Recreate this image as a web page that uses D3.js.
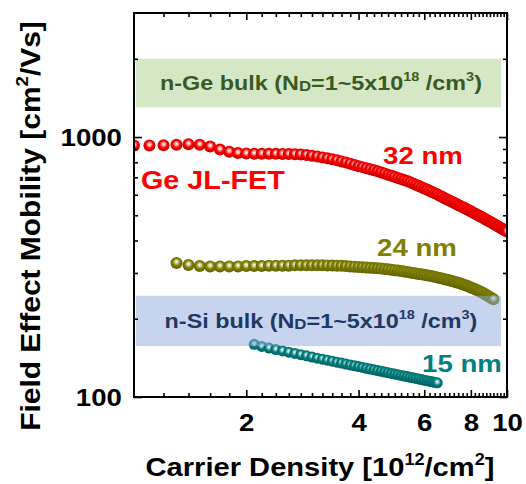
<!DOCTYPE html>
<html>
<head>
<meta charset="utf-8">
<script src="https://cdn.jsdelivr.net/npm/d3@7"></script>
<style>
  body { margin: 0; background: #fff; }
  svg text { font-family: "Liberation Sans", Arial, sans-serif; font-weight: bold; white-space: pre; }
</style>
</head>
<body>
<svg id="chart" width="526" height="484"></svg>
<script>
// tick labels
const xTickLabels = [2, 4, 6, 8, 10];
const yTickLabels = [100, 1000];

// Ge JL-FET, 32 nm
const ge32X = [1.0,1.1,1.2,1.3,1.4,1.5,1.6,1.7,1.8,1.9,2.0,2.1,2.2,2.3,2.4,2.5,2.6,2.7,2.8,2.9,
  3.0,3.1,3.2,3.3,3.4,3.5,3.6,3.7,3.8,3.9,4.0,4.1,4.2,4.3,4.4,4.5,4.6,4.7,4.8,4.9,
  5.0,5.1,5.2,5.3,5.4,5.5,5.6,5.7,5.8,5.9,6.0,6.1,6.2,6.3,6.4,6.5,6.6,6.7,6.8,6.9,
  7.0,7.1,7.2,7.3,7.4,7.5,7.6,7.7,7.8,7.9,8.0,8.1,8.2,8.3,8.4,8.5,8.6,8.7,8.8,8.9,
  9.0,9.1,9.2,9.3,9.4,9.5,9.6,9.7,9.8,9.9,10.0];
const ge32Y = [928,928,930,933,938,934,920,895,878,868,
  864,863,863,862,862,861,860,859,857,853,
  848,842,835,828,821,814,806,798,790,781,
  772,766,759,752,745,738,731,724,716,710,
  703,696,690,683,677,670,663,656,648,641,
  634,628,621,615,608,602,595,589,582,576,
  570,565,559,554,548,543,538,533,528,523,
  518,513,508,503,499,494,490,485,481,476,
  472,468,464,460,456,452,448,444,440,437,
  433];

// 24 nm
const ge24X = [1.3,1.4,1.5,1.6,1.7,1.8,1.9,2.0,2.1,2.2,2.3,2.4,2.5,2.6,2.7,2.8,2.9,
  3.0,3.1,3.2,3.3,3.4,3.5,3.6,3.7,3.8,3.9,4.0,4.1,4.2,4.3,4.4,4.5,4.6,4.7,4.8,4.9,
  5.0,5.1,5.2,5.3,5.4,5.5,5.6,5.7,5.8,5.9,6.0,6.1,6.2,6.3,6.4,6.5,6.6,6.7,6.8,6.9,
  7.0,7.1,7.2,7.3,7.4,7.5,7.6,7.7,7.8,7.9,8.0,8.1,8.2,8.3,8.4,8.5,8.6,8.7,8.8,8.9,
  9.0,9.1,9.2];
const ge24Y = [328,322,319,318,318,318,318,
  319,319,319,320,320,320,320,321,321,321,
  321,321,321,320.8,320.5,320,319.5,318.8,318,317.3,
  316.5,315.8,315,314.3,313.5,312.8,312,311,310,308.8,
  307.5,306.3,305,303.8,302.5,301.3,300,298.8,297.5,296.3,
  295,293.8,292.5,291.3,290,288.5,287,285.5,284,282.5,
  281,279.5,278,276.5,275,273.3,271.5,269.8,268,266,
  264,262,260,258,256,254,252,249.5,247,244.8,
  242.5,240,237.5];

// 15 nm
const ge15X = [2.1,2.2,2.3,2.4,2.5,2.6,2.7,2.8,2.9,
  3.0,3.1,3.2,3.3,3.4,3.5,3.6,3.7,3.8,3.9,4.0,4.1,4.2,4.3,4.4,4.5,4.6,4.7,4.8,4.9,
  5.0,5.1,5.2,5.3,5.4,5.5,5.6,5.7,5.8,5.9,6.0,6.1,6.2,6.3,6.4,6.5];
const ge15Y = [159.5,156.5,154.2,152.2,150.4,148.7,147.1,145.5,144,
  142.5,141.1,139.8,138.5,137.3,136.1,135,133.9,132.9,131.9,
  130.9,129.9,129,128.1,127.2,126.4,125.6,124.8,124,123.2,
  122.5,121.8,121.1,120.4,119.8,119.1,118.5,117.9,117.3,116.7,
  116.1,115.5,115,114.4,113.9,113.4];

// bulk reference bands [xFrom, xTo, yFrom, yTo]
const geBulkBand = [1.012, 9.64, 1300, 2000];
const siBulkBand = [1.012, 9.64, 157, 245];

const svg = d3.select('#chart');
const x = d3.scaleLog().domain([1, 10]).range([134, 507]);
const y = d3.scaleLog().domain([100, 3000]).range([397, 13]);

const series = [
  {xs: ge32X, ys: ge32Y, color: '#ff0000', dark: '#c00000', light: '#ffb8b8', r: 6, id: 'red'},
  {xs: ge24X, ys: ge24Y, color: '#808000', dark: '#5e5e00', light: '#d8d8a8', r: 6, id: 'olive'},
  {xs: ge15X, ys: ge15Y, color: '#008080', dark: '#005c5c', light: '#a8d8d8', r: 5.5, id: 'teal'}
];

const defs = svg.append('defs');
defs.append('clipPath').attr('id', 'plotclip')
  .append('rect').attr('x', 134).attr('y', 13).attr('width', 373).attr('height', 384);

series.forEach(s => {
  const gr = defs.append('radialGradient').attr('id', 'ball-' + s.id)
    .attr('cx', 0.5).attr('cy', 0.45).attr('r', 0.55).attr('fx', 0.5).attr('fy', 0.4);
  gr.append('stop').attr('offset', '0%').attr('stop-color', '#ffffff');
  gr.append('stop').attr('offset', '22%').attr('stop-color', s.light);
  gr.append('stop').attr('offset', '55%').attr('stop-color', s.color);
  gr.append('stop').attr('offset', '100%').attr('stop-color', s.dark);
});

// markers
const plot = svg.append('g').attr('clip-path', 'url(#plotclip)');
series.forEach(s => {
  plot.append('g').selectAll('circle')
    .data(s.xs.map((v, i) => ({x: v, y: s.ys[i]})))
    .enter().append('circle')
    .attr('cx', d => x(d.x))
    .attr('cy', d => y(d.y))
    .attr('r', s.r)
    .attr('fill', 'url(#ball-' + s.id + ')');
});

// helper for bold text with sup/sub parts, stretched horizontally
function label(tx, ty, sx, size, anchor, fill, parts, rot) {
  const g = svg.append('g')
    .attr('transform', `translate(${tx},${ty})` + (rot ? ` rotate(${rot})` : '') + ` scale(${sx},1)`);
  const t = g.append('text').attr('text-anchor', anchor).attr('font-size', size).attr('fill', fill);
  let shift = 0;
  parts.forEach(([s, kind]) => {
    const target = kind === 'sup' ? -0.42 * size : kind === 'sub' ? 0.03 * size : 0;
    const ts = t.append('tspan').text(s).attr('dy', target - shift);
    shift = target;
    if (kind) ts.attr('font-size', size * (kind === 'sup' ? 0.62 : 0.72));
  });
  return t;
}

// bands (semi-transparent, over the markers)
const bands = [
  {b: geBulkBand, fill: '#a9d18e', text: '#3a5a24', tag: 'n-Ge bulk (N'},
  {b: siBulkBand, fill: '#8eaadb', text: '#1f3864', tag: 'n-Si bulk (N'}
];
bands.forEach(d => {
  svg.append('rect')
    .attr('x', x(d.b[0])).attr('width', x(d.b[1]) - x(d.b[0]))
    .attr('y', y(d.b[3])).attr('height', y(d.b[2]) - y(d.b[3]))
    .attr('fill', d.fill).attr('fill-opacity', 0.5);
  const cy = (y(d.b[2]) + y(d.b[3])) / 2;
  label(321, cy + 7, 1.14, 20.5, 'middle', d.text,
    [[d.tag, ''], ['D', 'sub'], ['=1~5x10', ''], ['18', 'sup'], [' /cm', ''], ['3', 'sup'], [')', '']]);
});

// series labels
label(423, 164, 1.15, 24, 'middle', '#ff0000', [['32 nm', '']]);
label(141, 189, 1.15, 25, 'start', '#ff0000', [['Ge JL-FET', '']]);
label(417, 256, 1.15, 24, 'middle', '#808000', [['24 nm', '']]);
label(462, 372, 1.15, 24, 'middle', '#008080', [['15 nm', '']]);

// axes
const xMinor = d3.range(12, 100, 2).map(v => v / 10).filter(v => !xTickLabels.includes(v));
const yMinor = [200, 300, 400, 500, 600, 700, 800, 900, 2000];

function styleAxis(g) {
  g.select('.domain').remove();
  g.selectAll('.tick line').attr('stroke', '#000').attr('stroke-width', 1.6);
}

const bottom = svg.append('g').attr('transform', 'translate(0,397)')
  .call(d3.axisBottom(x).tickValues(xTickLabels).tickSize(-7).tickPadding(17).tickFormat(d3.format('d')))
  .call(styleAxis);
bottom.selectAll('text').attr('font-size', 24).attr('fill', '#000')
  .attr('font-family', '"Liberation Sans", Arial, sans-serif').attr('transform', 'scale(1.15,1)');
svg.append('g').attr('transform', 'translate(0,397)')
  .call(d3.axisBottom(x).tickValues(xMinor).tickSize(-4).tickFormat('')).call(styleAxis);
svg.append('g').attr('transform', 'translate(0,13)')
  .call(d3.axisTop(x).tickValues(xTickLabels).tickSize(-7).tickFormat('')).call(styleAxis);
svg.append('g').attr('transform', 'translate(0,13)')
  .call(d3.axisTop(x).tickValues(xMinor).tickSize(-4).tickFormat('')).call(styleAxis);

const left = svg.append('g').attr('transform', 'translate(134,0)')
  .call(d3.axisLeft(y).tickValues(yTickLabels).tickSize(-8).tickPadding(10.5).tickFormat(d3.format('d')))
  .call(styleAxis);
left.selectAll('text').attr('font-size', 24).attr('fill', '#000').attr('dy', '0.35em')
  .attr('font-family', '"Liberation Sans", Arial, sans-serif').attr('transform', 'scale(1.15,1)');
svg.append('g').attr('transform', 'translate(134,0)')
  .call(d3.axisLeft(y).tickValues(yMinor).tickSize(-4).tickFormat('')).call(styleAxis);
svg.append('g').attr('transform', 'translate(507,0)')
  .call(d3.axisRight(y).tickValues(yTickLabels).tickSize(-8).tickFormat('')).call(styleAxis);
svg.append('g').attr('transform', 'translate(507,0)')
  .call(d3.axisRight(y).tickValues(yMinor).tickSize(-4).tickFormat('')).call(styleAxis);

// frame
svg.append('rect').attr('x', 134).attr('y', 13).attr('width', 373).attr('height', 384)
  .attr('fill', 'none').attr('stroke', '#000').attr('stroke-width', 2);

// axis titles
label(320, 476, 1.12, 26, 'middle', '#000',
  [['Carrier Density [10', ''], ['12', 'sup'], ['/cm', ''], ['2', 'sup'], [']', '']]);
label(40, 226, 1.07, 28, 'middle', '#000',
  [['Field Effect Mobility [cm', ''], ['2', 'sup'], ['/Vs]', '']], -90);
</script>
</body>
</html>
